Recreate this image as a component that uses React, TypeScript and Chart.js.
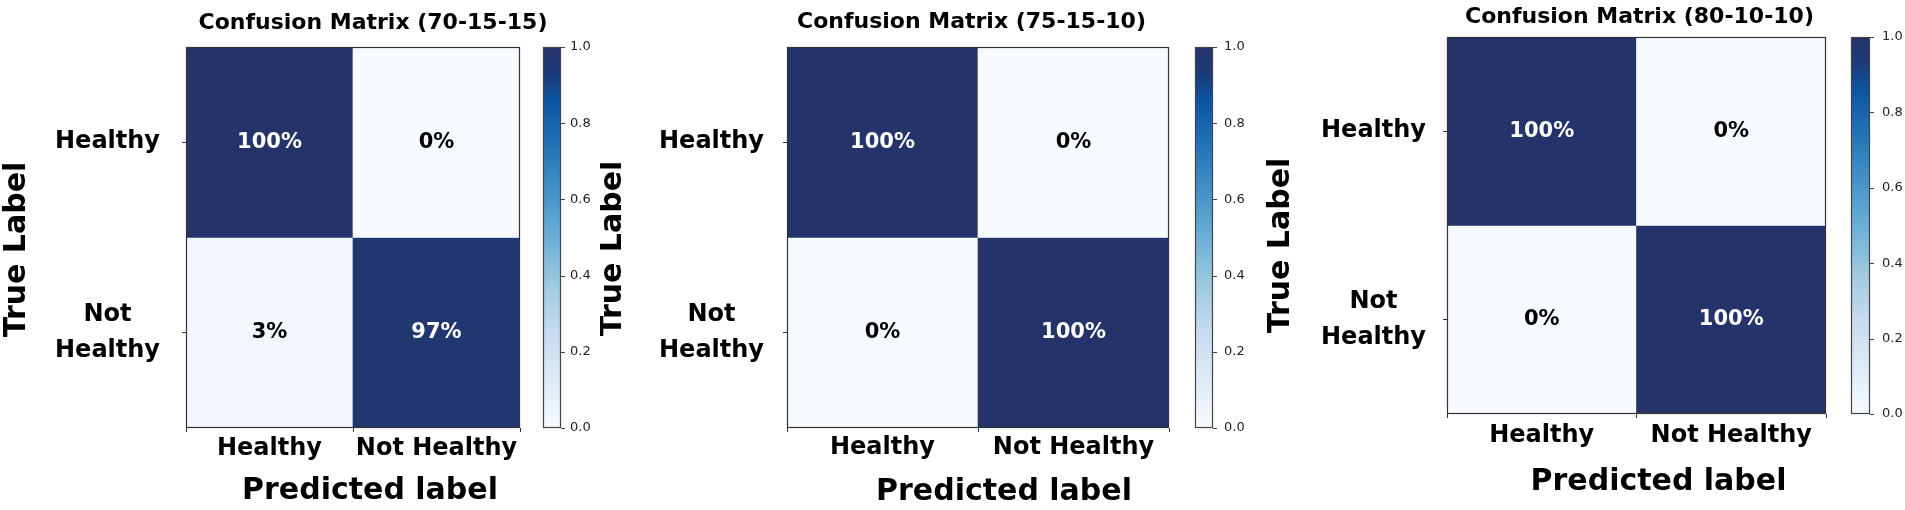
import React, { useEffect, useRef } from "react";
import { Chart, registerables } from "chart.js";

Chart.register(...registerables);

// ---------------- data ----------------
const predictedLabels: string[] = ["Healthy", "Not Healthy"];
const trueLabels: (string | string[])[] = ["Healthy", ["Not", "Healthy"]];
const panelTitles: string[] = [
  "Confusion Matrix (70-15-15)",
  "Confusion Matrix (75-15-10)",
  "Confusion Matrix (80-10-10)",
];
const matrix701515: number[][] = [
  [1.0, 0.0],
  [0.03, 0.97],
];
const matrix751510: number[][] = [
  [1.0, 0.0],
  [0.0, 1.0],
];
const matrix801010: number[][] = [
  [1.0, 0.0],
  [0.0, 1.0],
];
const colorbarTicks: number[] = [0, 0.2, 0.4, 0.6, 0.8, 1.0];
const xAxisTitle = "Predicted label";
const yAxisTitle = "True Label";

// ---------------- style ----------------
const FONT = "'DejaVu Sans', 'Liberation Sans', sans-serif";
const CMAP: [number, string][] = [
  [0, "#f7fbff"],
  [0.125, "#deebf7"],
  [0.25, "#c6dbef"],
  [0.375, "#9ecae1"],
  [0.5, "#6baed6"],
  [0.625, "#4292c6"],
  [0.75, "#2171b5"],
  [0.86, "#0b55a0"],
  [0.93, "#1d3a78"],
  [1, "#24346a"],
];

function hexToRgb(h: string): number[] {
  const n = parseInt(h.slice(1), 16);
  return [(n >> 16) & 255, (n >> 8) & 255, n & 255];
}
function colorFor(v: number): string {
  for (let i = 1; i < CMAP.length; i++) {
    const [t1, c1] = CMAP[i];
    const [t0, c0] = CMAP[i - 1];
    if (v <= t1) {
      const f = (v - t0) / (t1 - t0);
      const a = hexToRgb(c0);
      const b = hexToRgb(c1);
      const m = a.map((x, k) => Math.round(x + (b[k] - x) * f));
      return `rgb(${m[0]},${m[1]},${m[2]})`;
    }
  }
  return CMAP[CMAP.length - 1][1];
}

type Layout = {
  left: number;
  width: number;
  yAxisWidth: number;
  xAxisHeight: number;
  padBottom: number;
  titleTop: number;
  titleBottom: number;
  cbWidth: number;
  cbOffset: number;
  cbBarWidth: number;
  cbLabelPad: number;
  yTickPad: number;
  xTickPad: number;
  xTitleDx: number;
  xTitleDy: number;
  yTitleX: number;
  yTitleDy: number;
};

const LAYOUTS: Layout[] = [
  {
    left: 0, width: 746, yAxisWidth: 186, xAxisHeight: 82, padBottom: 0,
    titleTop: 10.2, titleBottom: 10.4, cbWidth: 226, cbOffset: 23, cbBarWidth: 18,
    cbLabelPad: 50, yTickPad: 22, xTickPad: 2, xTitleDx: 17, xTitleDy: 63.5,
    yTitleX: 17.5, yTitleDy: 12,
  },
  {
    left: 600, width: 743, yAxisWidth: 187, xAxisHeight: 82, padBottom: 0,
    titleTop: 9.2, titleBottom: 11.4, cbWidth: 174, cbOffset: 26, cbBarWidth: 18,
    cbLabelPad: 55, yTickPad: 19, xTickPad: 1, xTitleDx: 26, xTitleDy: 64.5,
    yTitleX: 13, yTitleDy: 11,
  },
  {
    left: 1260, width: 759, yAxisWidth: 187, xAxisHeight: 87, padBottom: 9,
    titleTop: 3.7, titleBottom: 6.9, cbWidth: 193, cbOffset: 25, cbBarWidth: 19,
    cbLabelPad: 56, yTickPad: 17, xTickPad: 3, xTitleDx: 22, xTitleDy: 68.6,
    yTitleX: 21.5, yTitleDy: 20,
  },
];

function pct(v: number): string {
  return `${Math.round(v * 100)}%`;
}

function Panel({ values, title, L }: { values: number[][]; title: string; L: Layout }) {
  const ref = useRef<HTMLCanvasElement | null>(null);

  useEffect(() => {
    if (!ref.current) return;

    const datasets = values.map((row, r) => ({
      label: Array.isArray(trueLabels[r]) ? (trueLabels[r] as string[]).join(" ") : (trueLabels[r] as string),
      data: row.map(() => [r, r + 1]),
      backgroundColor: row.map((v) => colorFor(v)),
      borderWidth: 0,
      grouped: false,
      barPercentage: 1,
      categoryPercentage: 1,
      xAxisID: "x",
      yAxisID: "y",
    }));

    const cellText = {
      id: "cellText",
      afterDatasetsDraw(chart: any) {
        const ctx = chart.ctx;
        ctx.save();
        ctx.font = `bold 21px ${FONT}`;
        ctx.textAlign = "center";
        ctx.textBaseline = "middle";
        chart.data.datasets.forEach((_: any, r: number) => {
          const meta = chart.getDatasetMeta(r);
          meta.data.forEach((el: any, c: number) => {
            const v = values[r][c];
            const p = el.getProps(["x", "y", "base"], true);
            ctx.fillStyle = v > 0.5 ? "#ffffff" : "#000000";
            ctx.fillText(pct(v), p.x, (p.y + p.base) / 2);
          });
        });
        // frame
        const a = chart.chartArea;
        ctx.strokeStyle = "#333";
        ctx.lineWidth = 1.2;
        ctx.strokeRect(a.left + 0.5, a.top + 0.5, a.right - a.left - 1, a.bottom - a.top - 1);
        ctx.restore();
      },
    };

    const colorbar = {
      id: "colorbar",
      afterDraw(chart: any) {
        const s = chart.scales.cb;
        const ctx = chart.ctx;
        const x0 = s.left + L.cbOffset;
        const w = L.cbBarWidth;
        const y0 = s.getPixelForValue(0);
        const y1 = s.getPixelForValue(1);
        ctx.save();
        const g = ctx.createLinearGradient(0, y0, 0, y1);
        CMAP.forEach(([t, c]) => g.addColorStop(t, c));
        ctx.fillStyle = g;
        ctx.fillRect(x0, y1, w, y0 - y1);
        ctx.strokeStyle = "#444";
        ctx.lineWidth = 1.2;
        ctx.strokeRect(x0 + 0.5, y1 + 0.5, w - 1, y0 - y1 - 1);
        ctx.beginPath();
        s.ticks.forEach((t: any) => {
          const y = Math.round(s.getPixelForValue(t.value)) + 0.5;
          ctx.moveTo(x0 + w, y);
          ctx.lineTo(x0 + w + 4, y);
        });
        ctx.stroke();
        ctx.restore();
      },
    };

    const axisTitles = {
      id: "axisTitles",
      afterDraw(chart: any) {
        const a = chart.chartArea;
        const ctx = chart.ctx;
        ctx.save();
        ctx.fillStyle = "#000";
        ctx.font = `bold 30px ${FONT}`;
        ctx.textAlign = "center";
        ctx.textBaseline = "middle";
        ctx.fillText(xAxisTitle, (a.left + a.right) / 2 + L.xTitleDx, a.bottom + L.xTitleDy);
        ctx.translate(L.yTitleX, (a.top + a.bottom) / 2 + L.yTitleDy);
        ctx.rotate(-Math.PI / 2);
        ctx.fillText(yAxisTitle, 0, 0);
        ctx.restore();
      },
    };

    const chart = new Chart(ref.current, {
      type: "bar",
      data: { labels: predictedLabels, datasets: datasets as any },
      options: {
        animation: false,
        responsive: false,
        maintainAspectRatio: false,
        events: [],
        layout: { padding: { left: 0, right: 0, top: 0, bottom: L.padBottom } },
        plugins: {
          legend: { display: false },
          tooltip: { enabled: false },
          title: {
            display: true,
            text: title,
            color: "#000",
            font: { family: FONT, size: 22, weight: "bold", lineHeight: 1.2 },
            padding: { top: L.titleTop, bottom: L.titleBottom },
          },
        },
        scales: {
          x: {
            type: "category",
            position: "bottom",
            offset: true,
            grid: {
              display: true,
              drawOnChartArea: false,
              drawTicks: true,
              tickLength: 4,
              color: "#333",
              tickColor: "#333",
            },
            border: { display: false },
            ticks: {
              color: "#000",
              font: { family: FONT, size: 24, weight: "bold", lineHeight: 1.2 },
              padding: L.xTickPad,
              maxRotation: 0,
              minRotation: 0,
              autoSkip: false,
            },
            afterFit: (s: any) => {
              s.height = L.xAxisHeight;
              s.paddingLeft = 0;
              s.paddingRight = 0;
              s.paddingTop = 0;
              s.paddingBottom = 0;
            },
          },
          y: {
            type: "linear",
            position: "left",
            min: 0,
            max: 2,
            reverse: true,
            afterBuildTicks: (s: any) => {
              s.ticks = trueLabels.map((_, i) => ({ value: i + 0.5 }));
            },
            grid: {
              display: true,
              drawOnChartArea: false,
              drawTicks: true,
              tickLength: 4,
              color: "#333",
              tickColor: "#333",
            },
            border: { display: false },
            ticks: {
              color: "#000",
              font: { family: FONT, size: 24, weight: "bold", lineHeight: 1.5 },
              padding: L.yTickPad,
              crossAlign: "center",
              autoSkip: false,
              callback: (v: any) => trueLabels[Math.floor(Number(v))] as any,
            },
            afterFit: (s: any) => {
              s.width = L.yAxisWidth;
              s.paddingLeft = 0;
              s.paddingRight = 0;
              s.paddingTop = 0;
              s.paddingBottom = 0;
            },
          },
          cb: {
            type: "linear",
            position: "right",
            min: 0,
            max: 1,
            afterBuildTicks: (s: any) => {
              s.ticks = colorbarTicks.map((v) => ({ value: v }));
            },
            grid: { display: false, drawTicks: false },
            border: { display: false },
            ticks: {
              color: "#222",
              font: { family: FONT, size: 13 },
              padding: L.cbLabelPad,
              autoSkip: false,
              callback: (v: any) => Number(v).toFixed(1),
            },
            afterFit: (s: any) => {
              s.width = L.cbWidth;
              s.paddingLeft = 0;
              s.paddingRight = 0;
              s.paddingTop = 0;
              s.paddingBottom = 0;
            },
          },
        } as any,
      },
      plugins: [cellText, colorbar, axisTitles],
    });

    return () => chart.destroy();
  }, [values, title, L]);

  return (
    <canvas
      ref={ref}
      width={L.width}
      height={510}
      style={{ position: "absolute", left: L.left, top: 0, width: L.width, height: 510 }}
    />
  );
}

const MATRICES = [matrix701515, matrix751510, matrix801010];

export default function App() {
  return (
    <div
      style={{
        position: "absolute",
        left: 0,
        top: 0,
        width: 1905,
        height: 510,
        overflow: "hidden",
        background: "#ffffff",
      }}
    >
      {MATRICES.map((m, i) => (
        <Panel key={i} values={m} title={panelTitles[i]} L={LAYOUTS[i]} />
      ))}
    </div>
  );
}
